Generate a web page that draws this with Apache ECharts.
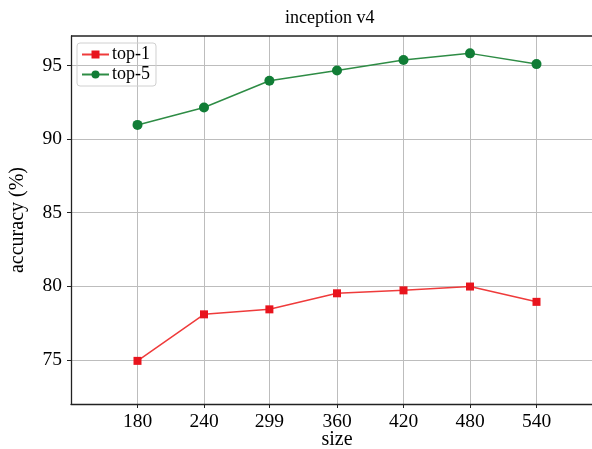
<!DOCTYPE html>
<html>
<head>
<meta charset="utf-8">
<script src="https://cdn.jsdelivr.net/npm/echarts@6/dist/echarts.min.js"></script>
<style>
  html, body { margin: 0; padding: 0; background: #fff; }
  #chart { width: 592px; height: 449px; }
</style>
</head>
<body>
<div id="chart"></div>
<script>
// 数据
const sizes = [180, 240, 299, 360, 420, 480, 540];
const top1 = [74.93, 78.09, 78.43, 79.52, 79.72, 79.98, 78.94];
const top5 = [90.96, 92.14, 93.96, 94.66, 95.37, 95.82, 95.09];
const yTicks = [75, 80, 85, 90, 95];

const FONT = '"Liberation Serif", "DejaVu Serif", serif';

document.addEventListener('DOMContentLoaded', function() {
    const chart = echarts.init(document.getElementById('chart'));
    const pair = arr => sizes.map((s, i) => [s, arr[i]]);

    const option = {
        backgroundColor: '#fff',
        animation: false,
        title: {
            text: 'inception v4',
            left: 280,
            top: 4,
            textStyle: { fontFamily: FONT, fontSize: 18, fontWeight: 'normal', color: '#000' }
        },
        legend: {
            data: ['top-1', 'top-5'],
            orient: 'vertical',
            left: 77,
            top: 43,
            padding: [2, 6, 2, 4],
            itemGap: 1,
            itemWidth: 27,
            itemHeight: 10,
            borderColor: '#d0d0d0',
            borderWidth: 1,
            borderRadius: 3,
            textStyle: { fontFamily: FONT, fontSize: 18, lineHeight: 19, color: '#000', padding: [0, 0, 0, -2] }
        },
        grid: { left: 71, right: -11, top: 36, bottom: 45, containLabel: false, outerBoundsMode: 'none' },
        xAxis: {
            type: 'value',
            min: 120,
            max: 600,
            name: 'size',
            nameLocation: 'middle',
            nameGap: 26,
            nameMoveOverlap: false,
            nameTextStyle: { fontFamily: FONT, fontSize: 20, color: '#000' },
            axisLine: { show: true, lineStyle: { color: '#222', width: 1.3 } },
            axisTick: { show: true, customValues: sizes, length: 4, lineStyle: { color: '#222' } },
            axisLabel: { customValues: sizes, fontFamily: FONT, fontSize: 19.5, color: '#000', margin: 8 },
            splitLine: { show: true, lineStyle: { color: '#bdbdbd', width: 1 } }
        },
        yAxis: {
            type: 'value',
            min: 72,
            max: 97,
            name: 'accuracy (%)',
            nameLocation: 'middle',
            nameGap: 43,
            nameMoveOverlap: false,
            nameTextStyle: { fontFamily: FONT, fontSize: 20, color: '#000' },
            axisLine: { show: true, lineStyle: { color: '#222', width: 1.3 } },
            axisTick: { show: true, customValues: yTicks, length: 4, lineStyle: { color: '#222' } },
            axisLabel: { customValues: yTicks, fontFamily: FONT, fontSize: 19.5, color: '#000', margin: 9 },
            splitLine: { show: true, lineStyle: { color: '#bdbdbd', width: 1 } }
        },
        series: [
            {
                name: 'top-1',
                type: 'line',
                data: pair(top1),
                symbol: 'rect',
                symbolSize: 8,
                itemStyle: { color: '#e8141d' },
                lineStyle: { color: '#ef3b3b', width: 1.5 }
            },
            {
                name: 'top-5',
                type: 'line',
                data: pair(top5),
                symbol: 'circle',
                symbolSize: 10,
                itemStyle: { color: '#117d36' },
                lineStyle: { color: '#2e8c45', width: 1.5 }
            }
        ]
    };
    chart.setOption(option);

    // 顶部边框
    chart.setOption({
        graphic: [{
            type: 'line',
            shape: { x1: 71, y1: 36, x2: 592, y2: 36 },
            style: { stroke: '#222', lineWidth: 1.3 }
        }]
    });
});
</script>
</body>
</html>
